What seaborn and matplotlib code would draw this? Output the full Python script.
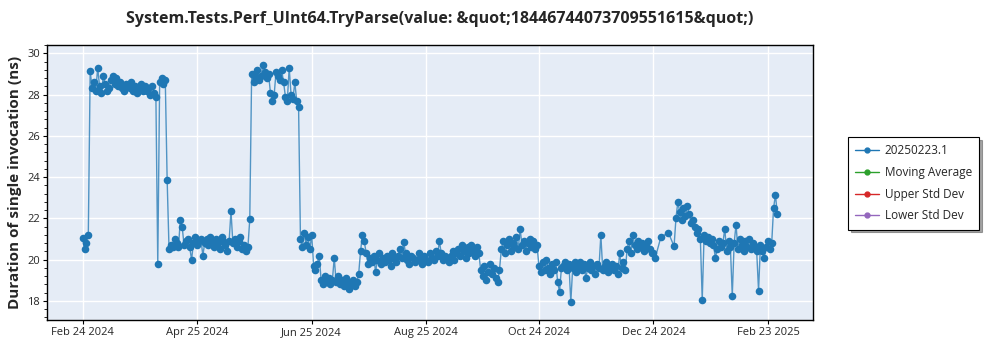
import numpy as np
import pandas as pd
import matplotlib
matplotlib.use("Agg")
import matplotlib.pyplot as plt
import matplotlib.dates as mdates
from matplotlib.ticker import AutoMinorLocator
from matplotlib.lines import Line2D
import seaborn as sns

TITLE = "System.Tests.Perf_UInt64.TryParse(value: &quot;18446744073709551615&quot;)"
Y_LABEL = "Duration of single invocation (ns)"
LEGEND_LABELS = ["20250223.1", "Moving Average", "Upper Std Dev", "Lower Std Dev"]
LEGEND_COLORS = ["#1f77b4", "#2ca02c", "#d62728", "#9467bd"]
X_TICKS = ["2024-02-24", "2024-04-25", "2024-06-25", "2024-08-25",
           "2024-10-24", "2024-12-24", "2025-02-23"]
Y_TICKS = [18, 20, 22, 24, 26, 28, 30]

# daily measurements, segment by segment (start date, values)
seg_a = [21.05, 20.5, 20.8, 21.2]
seg_b = [29.15, 28.3, 28.6, 28.2, 29.3, 28.4, 28.1, 28.9, 28.5, 28.2,
         28.3, 28.7, 28.9, 28.5, 28.8, 28.4, 28.6, 28.3, 28.2, 28.5,
         28.4, 28.3, 28.6, 28.2, 28.4, 28.1, 28.3, 28.5, 28.2, 28.4,
         28.2, 28.3, 28.0, 28.4, 28.1, 27.9]
seg_c = [19.8, 28.6, 28.8, 28.5, 28.7, 23.85]
seg_d = [20.5, 20.7, 20.6, 21.0, 20.8, 20.6, 21.9, 21.6, 20.7, 20.9,
         21.0, 20.6, 20.0, 20.8, 21.1, 20.7, 20.9, 21.0, 20.2, 20.8,
         21.0, 20.7, 21.1, 20.9, 20.6, 21.0, 20.8, 20.5, 21.1, 20.9,
         20.7, 20.4, 20.9, 22.35, 20.8, 21.0, 20.6, 20.9, 21.1, 20.5,
         20.7, 20.4, 20.6, 21.95]
seg_e = [29.0, 28.6, 28.9, 29.2, 28.7, 28.9, 29.45, 29.1, 28.8, 29.0,
         28.1, 27.7, 28.0, 29.1, 28.9, 28.7, 29.2, 28.6, 27.9, 27.7,
         29.3, 28.0, 27.8, 28.6, 27.7, 27.4]
seg_f = [21.0, 20.6, 21.3, 20.7, 21.1, 20.5, 21.2, 19.7, 19.5, 19.8, 20.2,
         19.0, 18.8, 19.2, 18.9, 19.1, 18.8, 19.0, 20.1, 18.9, 19.2,
         18.8, 19.0, 18.7, 19.1, 18.9, 18.6, 18.8, 19.0, 18.7, 18.9, 19.3]
seg_g = [20.4, 21.2, 20.9, 20.3, 19.8, 20.1, 19.9, 20.2, 19.4, 20.0,
         20.3, 19.8, 20.1, 19.9, 20.2, 20.0, 19.7, 20.3, 20.1, 19.9,
         20.2, 20.5, 20.1, 20.85, 20.3, 20.0, 19.8, 20.2, 20.1, 19.9,
         20.0, 20.3, 20.1, 19.8, 20.2, 20.0, 19.9, 20.3, 20.1, 20.0,
         20.4, 20.2, 20.9, 20.3, 20.0, 20.2, 20.1, 19.9, 20.2, 20.4,
         20.0, 20.3]
seg_h = [20.5, 20.2, 20.7, 20.4, 20.1, 20.6, 20.3, 20.7, 20.4, 20.2, 20.6, 20.3]
seg_i = [19.5, 19.2, 19.7, 19.0, 19.4, 19.8, 19.3, 19.6, 19.1, 18.9, 19.5]
seg_j = [20.5, 20.9, 20.3, 20.7, 21.0, 20.4, 20.8, 20.6, 21.1, 20.5,
         21.5, 20.7, 20.9, 20.4, 20.8, 21.0, 20.6, 20.9, 20.5, 20.7]
seg_k = [19.7, 19.4, 19.9, 19.5, 20.0, 19.6, 19.3, 19.8, 19.5, 19.9, 18.9, 18.45, 19.6]
seg_l = [19.7, 19.9, 19.5, 19.8, 17.95, 19.6, 19.9, 19.4, 19.7, 19.9,
         19.5, 19.8, 19.1, 19.6, 19.9, 19.5, 19.7, 19.3, 19.8, 19.6,
         21.2, 19.5, 19.7, 19.9, 19.4, 19.6, 19.8, 19.5, 19.7, 19.3,
         20.3, 19.6, 19.9, 19.5]
seg_m = [20.5, 20.9, 20.3, 21.2, 20.7, 20.5, 20.9, 20.6, 20.8, 20.4,
         20.7, 20.9, 20.5, 20.3, 20.3, 20.1]
seg_n1 = [21.1]
seg_n2 = [21.3]
seg_n3 = [20.65]
seg_p = [22.0, 22.8, 22.3, 21.9, 22.5, 22.1, 22.6, 22.2, 21.8, 21.9]
seg_q = [21.6, 21.3, 21.5, 21.0, 18.05, 21.2, 20.9, 21.1, 20.8, 21.0]
seg_r = [20.7, 20.1, 20.5, 20.9, 20.6, 20.8, 21.5, 20.4, 20.9, 20.6,
         18.25, 20.8, 21.7, 20.5, 21.0, 20.7, 20.4, 20.9, 20.6, 21.0,
         20.5, 20.8, 20.6, 20.4, 18.5, 20.7, 20.4, 20.1, 20.6, 20.9,
         20.5, 20.8]
seg_s = [22.5, 23.15, 22.2]

segments = [seg_a, seg_b, seg_c, seg_d, seg_e, seg_f, seg_g, seg_h, seg_i,
            seg_j, seg_k, seg_l, seg_m, seg_n1, seg_n2, seg_n3, seg_p, seg_q,
            seg_r, seg_s]
seg_starts = ["2024-02-24", "2024-02-28", "2024-04-04", "2024-04-10",
              "2024-05-24", "2024-06-19", "2024-07-21", "2024-09-11",
              "2024-09-23", "2024-10-04", "2024-10-24", "2024-11-06",
              "2024-12-10", "2024-12-28", "2025-01-01", "2025-01-04",
              "2025-01-05", "2025-01-15", "2025-01-25", "2025-02-26"]

dates = []
values = []
for st, seg in zip(seg_starts, segments):
    d = pd.date_range(st, periods=len(seg), freq="D")
    dates.extend(d)
    values.extend(seg)

df = pd.DataFrame({"date": pd.to_datetime(dates), "value": values})

sns.set_theme(style="darkgrid")
plt.rcParams["font.family"] = ["Open Sans", "DejaVu Sans"]

fig = plt.figure(figsize=(10, 3.5), dpi=100)
ax = fig.add_axes([0.047, 0.086, 0.766, 0.785])
ax.set_facecolor("#E5ECF6")

sns.lineplot(data=df, x="date", y="value", ax=ax, color="#1f77b4",
             estimator=None, linewidth=1.0, alpha=0.75, legend=False)
sns.scatterplot(data=df, x="date", y="value", ax=ax, color="#1f77b4",
                s=30, linewidth=0, alpha=1.0, legend=False, zorder=3)

ax.set_xlim(pd.Timestamp("2024-02-05"), pd.Timestamp("2025-03-19"))
ax.set_ylim(17.08, 30.4)
ax.set_xticks(pd.to_datetime(X_TICKS))
ax.xaxis.set_major_formatter(mdates.DateFormatter("%b %d %Y"))
ax.set_yticks(Y_TICKS)
ax.yaxis.set_minor_locator(AutoMinorLocator(5))
ax.grid(True, which="major", color="white", linewidth=1.0)
ax.grid(False, which="minor")
ax.tick_params(axis="both", which="major", labelsize=8, length=3, width=0.8,
               color="black", direction="out", bottom=True, left=True, pad=2)
ax.tick_params(axis="y", which="minor", length=2, width=0.6, color="black", left=True)
for sp in ax.spines.values():
    sp.set_visible(True)
    sp.set_color("black")
    sp.set_linewidth(1.0)
ax.set_xlabel("")
ax.set_ylabel(Y_LABEL, fontsize=11, fontweight="bold", labelpad=4)

fig.text(0.44, 0.945, TITLE, ha="center", va="center", fontsize=11.5, fontweight="bold")

handles = [Line2D([0], [0], color=c, marker="o", markersize=3.5, linewidth=1.0)
           for c in LEGEND_COLORS]
leg = fig.legend(handles, LEGEND_LABELS, loc="upper left",
                 bbox_to_anchor=(0.848, 0.609), borderaxespad=0, frameon=True,
                 fancybox=False, shadow=True, fontsize=8.5, handlelength=2.0,
                 borderpad=0.6, labelspacing=0.75, handletextpad=0.5)
leg.get_frame().set_edgecolor("black")
leg.get_frame().set_linewidth(0.8)
leg.get_frame().set_facecolor("white")

fig.savefig("out.png", dpi=100)
